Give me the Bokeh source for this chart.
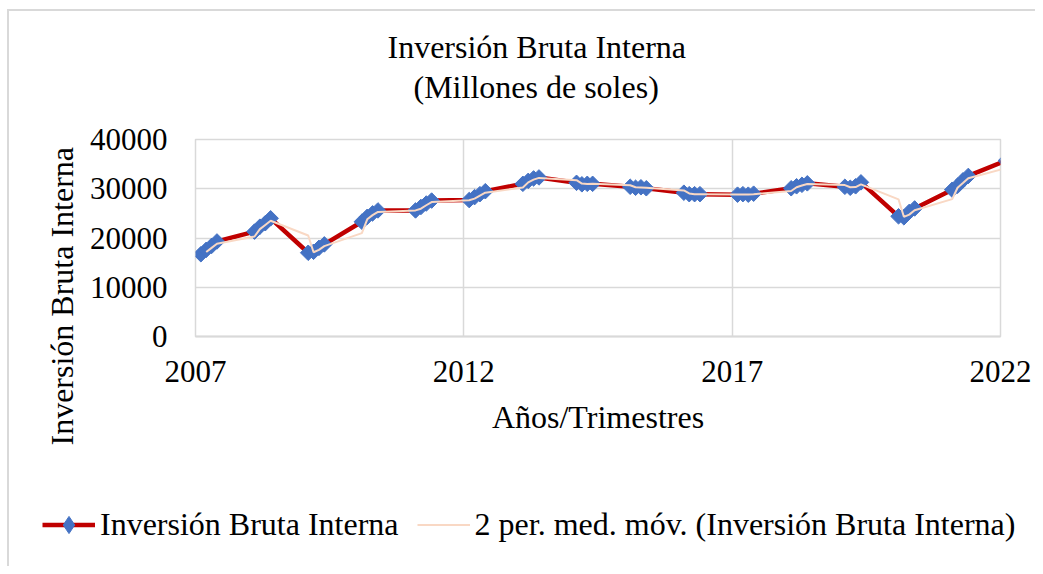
import math
from bokeh.plotting import figure
from bokeh.layouts import column
from bokeh.models import (Range1d, FixedTicker, Legend, LegendItem, Title,
                          ColumnDataSource)
from bokeh.embed import file_html
from bokeh.resources import INLINE

# ---------------- data ----------------
trimestres = [
    "2007.1", "2007.2", "2007.3", "2007.4",
    "2008.1", "2008.2", "2008.3", "2008.4",
    "2009.1", "2009.2", "2009.3", "2009.4",
    "2010.1", "2010.2", "2010.3", "2010.4",
    "2011.1", "2011.2", "2011.3", "2011.4",
    "2012.1", "2012.2", "2012.3", "2012.4",
    "2013.1", "2013.2", "2013.3", "2013.4",
    "2014.1", "2014.2", "2014.3", "2014.4",
    "2015.1", "2015.2", "2015.3", "2015.4",
    "2016.1", "2016.2", "2016.3", "2016.4",
    "2017.1", "2017.2", "2017.3", "2017.4",
    "2018.1", "2018.2", "2018.3", "2018.4",
    "2019.1", "2019.2", "2019.3", "2019.4",
    "2020.1", "2020.2", "2020.3", "2020.4",
    "2021.1", "2021.2", "2021.3", "2021.4",
    "2022.1",
]
inversion = [
    16700, 17600, 18400, 19300,
    21300, 22300, 23000, 24000,
    17000, 17200, 18000, 18700,
    23300, 24300, 25000, 25600,
    25600, 26300, 27000, 27600,
    27700, 28300, 28900, 29500,
    31000, 31600, 32100, 32300,
    31200, 30900, 31000, 31000,
    30400, 30200, 30300, 30100,
    29200, 28900, 28900, 28900,
    28800, 28900, 28800, 29000,
    30100, 30500, 30800, 31100,
    30400, 30200, 30500, 31300,
    24400, 24200, 25300, 26000,
    29800, 30600, 31700, 32600,
    35700,
]
x_ticks = [2007, 2012, 2017, 2022]
y_ticks = [0, 10000, 20000, 30000, 40000]

titulo = "Inversión Bruta Interna"
subtitulo = "(Millones de soles)"
eje_x = "Años/Trimestres"
eje_y = "Inversión Bruta Interna"
serie1 = "Inversión Bruta Interna"
serie2 = "2 per. med. móv. (Inversión Bruta Interna)"

# ---------------- derived ----------------
xs = [float(t) for t in trimestres]
# Excel 2-period moving-average trendline
ma_x = xs[1:]
ma_y = [(inversion[i - 1] + inversion[i]) / 2 for i in range(1, len(inversion))]

src = ColumnDataSource(dict(x=xs, y=inversion))
src_ma = ColumnDataSource(dict(x=ma_x, y=ma_y))

FONT = "Liberation Serif"
GRID = "#d9d9d9"
RED = "#C00000"
BLUE = "#4472C4"
PEACH = "#F9D8C4"
MSIZE = 11

p = figure(width=1026, height=459, title=None,
           x_range=Range1d(2007, 2022), y_range=Range1d(0, 40000),
           output_backend="svg", toolbar_location=None,
           min_border_left=186, min_border_right=35,
           min_border_top=128, min_border_bottom=134)
p.frame_align = False

p.background_fill_color = "white"
p.border_fill_color = "white"
p.outline_line_color = GRID
p.outline_line_width = 1.5

# axes
p.xaxis.ticker = FixedTicker(ticks=x_ticks)
p.yaxis.ticker = FixedTicker(ticks=y_ticks)
for ax in (p.xaxis, p.yaxis):
    ax.major_label_text_font = FONT
    ax.major_label_text_font_size = "31px"
    ax.major_label_text_color = "#000000"
    ax.major_tick_line_color = None
    ax.minor_tick_line_color = None
    ax.major_tick_out = 0
    ax.major_tick_in = 0
p.xaxis.axis_line_color = GRID
p.xaxis.axis_line_width = 2
p.xaxis.major_label_standoff = 24
p.xaxis.axis_label = eje_x
p.xaxis.axis_label_text_font = FONT
p.xaxis.axis_label_text_font_size = "32px"
p.xaxis.axis_label_text_font_style = "normal"
p.xaxis.axis_label_text_color = "#000000"
p.xaxis.axis_label_standoff = 14
p.yaxis.axis_line_color = None
p.yaxis.major_label_standoff = 28

p.xgrid.grid_line_color = GRID
p.xgrid.grid_line_width = 1.5
p.ygrid.grid_line_color = GRID
p.ygrid.grid_line_width = 1.5

# series
r1 = p.line("x", "y", source=src, line_color=RED, line_width=4.5)
r2 = p.scatter("x", "y", source=src, marker="square", size=MSIZE,
               angle=math.pi / 4, fill_color=BLUE, line_color=BLUE,
               line_width=1)
r3 = p.line("x", "y", source=src_ma, line_color=PEACH, line_width=2)

# chart titles: a thin spacer nearest the plot area, then subtitle, then title
p.add_layout(Title(text=" ", text_font_size="1px", standoff=32), "above")
p.add_layout(Title(text=subtitulo, align="left", offset=218, standoff=0,
                   text_font=FONT, text_font_size="32px",
                   text_font_style="normal", text_color="#000000"), "above")
p.add_layout(Title(text=titulo, align="left", offset=192, standoff=3,
                   text_font=FONT, text_font_size="32px",
                   text_font_style="normal", text_color="#000000"), "above")

# y-axis title (starts below the plot area, as in the reference)
p.add_layout(Title(text=eje_y, align="left", offset=-109, standoff=13.6,
                   text_font=FONT, text_font_size="32px",
                   text_font_style="normal", text_color="#000000"), "left")

# ---------------- legend strip ----------------
# legend keys reuse the same series sources; the strip's ranges keep the
# marks themselves out of view so only the legend keys show
pl = figure(width=1026, height=96, title=None,
            x_range=Range1d(0, 1), y_range=Range1d(0, 1),
            x_axis_type=None, y_axis_type=None,
            output_backend="svg", toolbar_location=None, min_border=0)
pl.frame_align = False
pl.outline_line_color = None
pl.background_fill_color = "white"
pl.border_fill_color = "white"
l1 = pl.line("x", "y", source=src, line_color=RED, line_width=4.5)
l2 = pl.scatter("x", "y", source=src, marker="diamond", size=17,
                fill_color=BLUE, line_color=BLUE, line_width=1)
l3 = pl.line("x", "y", source=src_ma, line_color=PEACH, line_width=2)

legend = Legend(items=[LegendItem(label=serie1, renderers=[l1, l2]),
                       LegendItem(label=serie2, renderers=[l3])],
                location=(33, 20), orientation="horizontal",
                padding=0, margin=0, spacing=18, label_standoff=5,
                glyph_width=53, glyph_height=43,
                border_line_color=None, background_fill_alpha=0,
                label_text_font=FONT, label_text_font_size="32px",
                label_text_color="#000000")
pl.add_layout(legend, "center")

layout = column(p, pl, spacing=0)
layout.margin = (9, 0, 0, 7)
layout.styles = {"border-left": "2px solid #d9d9d9",
                 "border-top": "2px solid #d9d9d9"}

open("out.html", "w").write(file_html(layout, INLINE))
